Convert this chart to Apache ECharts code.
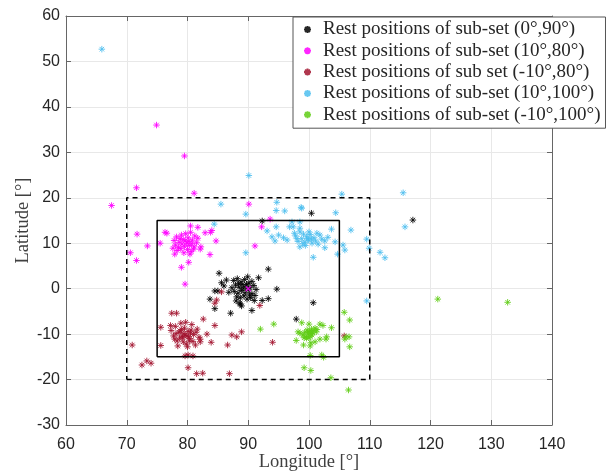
<!DOCTYPE html>
<html>
<head>
<meta charset="utf-8">
<script src="https://cdn.jsdelivr.net/npm/echarts@6/dist/echarts.min.js"></script>
<style>
  html, body { margin: 0; padding: 0; background: #fff; }
  #chart { width: 607px; height: 473px; }
</style>
</head>
<body>
<div id="chart"></div>
<script>
// axis ticks
const xTicks = [60, 140, 10];
const yTicks = [-30, 60, 10];

// rest positions [longitude, latitude]
const set0_90 = [
  [85.2,3.4],[93.3,4.3],[91.7,2.4],[85.6,1.3],[94.7,-0.1],[85.0,-0.5],[84.5,-0.5],[83.7,-2.3],
  [84.5,-4.4],[87.1,-5.4],[90.6,-4.8],[92.3,-2.6],[93.3,-2.2],[88.7,-3.4],[88.9,-3.8],[100.7,-3.1],
  [97.9,-6.7],[100.4,16.6],[92.3,14.9],[117.1,15.1],[88.6,-3.2],[86.4,1.9],[86.0,0.6],
  [87.6,1.8],[88.2,2.2],[88.8,1.5],[89.4,2.0],[90.1,1.2],[90.6,1.6],[87.9,0.8],[88.5,0.3],
  [89.0,0.9],[89.6,0.5],[90.3,0.2],[90.9,0.7],[91.3,-0.2],[87.7,-0.6],[88.3,-1.0],[88.9,-0.4],
  [89.5,-0.9],[90.0,-0.3],[90.6,-1.1],[91.1,-1.5],[88.1,-1.8],[88.7,-2.0],[89.3,-1.6],[89.8,-2.3],
  [90.4,-2.0],[89.2,0.1],[89.7,1.0],[90.2,-1.4],[88.4,1.1],[91.0,-2.6],[87.3,0.2],[89.9,2.6],
  [88.0,-2.7],[86.8,-0.8]
];
const set10_80 = [
  [71.7,12.0],[73.4,9.4],[70.6,7.9],[71.6,6.2],[75.5,10.0],[76.3,12.4],[76.6,12.2],[80.5,13.8],
  [81.7,13.5],[82.9,12.3],[83.8,12.4],[84.0,12.8],[84.7,10.5],[82.2,9.2],[82.1,8.7],[79.0,4.7],
  [80.2,5.8],[79.6,1.0],[67.5,18.3],[71.6,22.2],[81.1,21.0],[90.1,18.6],[91.1,9.4],[83.7,7.5],
  [74.9,36.0],[79.5,29.2],[93.6,15.3],[92.2,13.6],
  [77.8,10.6],[78.2,11.4],[78.6,10.2],[79.0,11.8],[79.3,10.8],[79.7,12.1],[80.1,11.2],[80.5,12.4],
  [80.8,10.7],[81.2,11.6],[81.5,10.1],[78.0,9.6],[78.5,9.1],[79.1,9.8],[79.5,9.3],[79.9,10.0],
  [80.3,9.5],[80.7,9.9],[81.1,9.2],[78.3,8.4],[78.9,8.8],[79.4,7.9],[80.0,8.6],[80.6,8.2],
  [81.0,8.7],[77.6,8.9],[79.6,10.5],[80.2,10.4],[78.8,11.0],[81.7,11.1],[77.9,7.6],[80.4,7.6]
];
const setM10_80 = [
  [77.4,-5.4],[78.2,-5.4],[82.6,-6.7],[84.5,-8.1],[75.6,-8.5],[70.9,-12.4],[75.6,-12.5],[83.2,-10.0],
  [83.9,-11.8],[86.6,-12.4],[87.3,-10.2],[88.1,-10.6],[79.6,-14.8],[80.1,-14.6],[80.9,-14.8],[72.5,-16.8],
  [73.3,-15.9],[74.0,-16.4],[80.1,-17.4],[81.5,-18.7],[82.5,-18.6],[86.9,-18.7],[84.8,-2.5],[84.5,-3.2],
  [85.6,-0.7],[88.9,-9.5],[91.9,-3.7],[94.0,-11.8],[105.8,-10.4],[82.1,-11.1],[82.1,-11.7],
  [77.3,-9.2],[77.7,-10.4],[78.0,-8.3],[78.3,-11.5],[78.6,-9.6],[78.9,-7.6],[79.2,-10.8],[79.5,-8.7],
  [79.8,-12.2],[80.1,-9.4],[80.4,-11.0],[80.7,-7.9],[81.0,-10.1],[81.3,-12.4],[81.6,-8.9],[81.9,-10.7],
  [78.4,-12.6],[79.0,-9.0],[79.6,-10.2],[80.2,-10.6],[80.6,-9.1],[79.3,-11.7],[78.1,-9.9],[80.9,-11.6],
  [77.9,-11.1],[79.7,-7.4],[81.4,-9.6],[78.7,-10.9],[80.0,-12.8],[77.2,-8.1],
  [79.4,-9.9],[79.9,-10.4],[80.5,-9.8],[79.1,-10.5],[80.3,-11.5],[78.8,-9.3]
];
const set10_100 = [
  [94.7,19.0],[94.6,17.2],[96.0,17.1],[98.7,17.9],[98.8,17.7],[104.4,16.7],[106.9,12.9],[109.5,10.9],
  [109.5,-2.7],[105.6,9.6],[105.9,8.5],[104.7,7.6],[100.7,6.9],[103.7,13.1],[104.3,10.3],[97.2,14.7],
  [96.8,13.6],[97.4,13.6],[98.5,14.7],[93.1,12.7],[94.6,13.6],[93.9,11.4],[94.4,10.5],[95.0,11.8],
  [95.8,11.2],[96.4,10.7],[105.4,20.8],[115.5,21.1],[115.8,13.6],[111.7,8.0],[112.5,6.8],[109.9,8.9],
  [85.5,18.6],[89.6,16.4],[84.4,14.2],[89.6,7.9],[65.9,52.7],[101.3,38.0],[90.1,24.9],
  [97.8,11.6],[98.2,10.4],[98.5,12.5],[98.5,13.3],[98.5,9.2],[98.8,11.0],[99.1,12.0],[99.3,10.2],
  [99.6,11.4],[99.9,10.7],[100.2,11.9],[100.5,10.0],[100.8,11.2],[101.1,10.5],[101.3,12.2],[101.8,11.8],
  [102.6,10.5],[102.6,9.0],[99.4,9.5],[100.0,12.5],[98.0,11.0],[101.5,9.8],[99.8,11.0],[100.4,10.9],
  [97.6,12.2],[102.1,10.9],[103.1,11.3],[99.0,9.9]
];
const setM10_100 = [
  [94.2,-7.8],[92.0,-8.9],[98.8,-7.5],[100.0,-7.8],[101.8,-7.8],[102.3,-8.1],[103.7,-8.6],[102.9,-10.6],
  [102.8,-11.1],[101.8,-11.1],[97.9,-11.4],[99.1,-12.4],[100.3,-11.9],[101.0,-11.7],[100.2,-12.6],[98.5,-9.8],
  [98.2,-9.5],[100.2,-14.7],[102.1,-14.6],[102.4,-15.1],[99.2,-17.4],[100.3,-18.0],[105.8,-5.2],[106.7,-6.9],
  [106.1,-10.6],[106.6,-10.6],[106.7,-12.8],[105.9,-11.1],[106.5,-22.3],[103.6,-19.6],[121.2,-2.3],[132.7,-3.0],
  [99.0,-10.2],[99.3,-9.6],[99.5,-10.6],[99.7,-9.1],[99.9,-10.0],[100.1,-9.4],[100.2,-10.5],[100.4,-8.9],
  [100.6,-9.7],[100.8,-9.2],[101.0,-8.7],[101.2,-9.5],[99.6,-10.9],[100.0,-10.8],[100.5,-10.2],[99.8,-9.5],
  [100.3,-9.9],[101.3,-9.0],[99.2,-10.8]
];
const centre = [[90, 0]];

// boxes
const innerBox = [[75,-15],[105,-15],[105,15],[75,15],[75,-15]];
const outerBox = [[70,-20],[110,-20],[110,20],[70,20],[70,-20]];

const names = [
  'Rest positions of sub-set (0°,90°)',
  'Rest positions of sub-set (10°,80°)',
  'Rest positions of sub set (-10°,80°)',
  'Rest positions of sub-set (10°,100°)',
  'Rest positions of sub-set (-10°,100°)'
];
const colors = ['#000000', '#ff00ff', '#a2142f', '#4dbeee', '#5fcc14'];
const sets = [set0_90, set10_80, setM10_80, set10_100, setM10_100];

const star = 'path://M0,-10L0,10M-10,0L10,0M-7,-7L7,7M-7,7L7,-7';
const cross = 'path://M-7,-7L7,7M-7,7L7,-7';

const chart = echarts.init(document.getElementById('chart'));

let series = sets.map((d, i) => ({
    name: names[i],
    type: 'scatter',
    data: d,
    symbol: star,
    symbolSize: 6.5,
    itemStyle: { color: colors[i], borderColor: colors[i], borderWidth: 1, opacity: 0.85 }
}));
series.push({
    type: 'scatter', data: centre, symbol: cross, symbolSize: 5, z: 5,
    itemStyle: { color: '#ff00ff', borderColor: '#ff00ff', borderWidth: 1.5 }
});
series.push({
    type: 'line', data: innerBox, showSymbol: false, silent: true,
    lineStyle: { color: '#000', width: 1.5 }
});
series.push({
    type: 'line', data: outerBox, showSymbol: false, silent: true,
    lineStyle: { color: '#000', width: 1.5, type: [5, 4] }
});

const axisCol = '#666';
const labelStyle = { fontFamily: 'Liberation Sans', fontSize: 16, color: '#262626' };
const nameStyle = { fontFamily: 'Liberation Serif', fontSize: 18.5, color: '#404040' };

chart.setOption({
    animation: false,
    grid: { left: 66, right: 55, top: 16, bottom: 48, outerBoundsMode: 'none', containLabel: false },
    legend: {
        data: names.map(n => ({ name: n, icon: star })),
        orient: 'vertical',
        left: 293, top: 17,
        padding: [3, 5, 4, 10],
        itemGap: 2.3,
        itemWidth: 7, itemHeight: 7,
        backgroundColor: '#fff',
        borderColor: '#555', borderWidth: 1,
        textStyle: { fontFamily: 'Liberation Serif', fontSize: 19, color: '#262626', padding: [0, 0, 0, 7] }
    },
    xAxis: [{
        type: 'value', min: xTicks[0], max: xTicks[1], interval: xTicks[2],
        name: 'Longitude [°]', nameLocation: 'middle', nameGap: 28, nameMoveOverlap: false,
        nameTextStyle: nameStyle,
        axisLine: { onZero: false, lineStyle: { color: axisCol } },
        axisTick: { inside: true, length: 5, lineStyle: { color: axisCol } },
        axisLabel: Object.assign({ margin: 12 }, labelStyle),
        splitLine: { lineStyle: { color: '#e8e8e8' } }
    }, {
        type: 'value', position: 'top', min: xTicks[0], max: xTicks[1], interval: xTicks[2],
        axisLine: { onZero: false, lineStyle: { color: axisCol } },
        axisTick: { inside: true, length: 5, lineStyle: { color: axisCol } },
        axisLabel: { show: false }, splitLine: { show: false }
    }],
    yAxis: [{
        type: 'value', min: yTicks[0], max: yTicks[1], interval: yTicks[2],
        name: 'Latitude [°]', nameLocation: 'middle', nameGap: 33, nameMoveOverlap: false,
        nameTextStyle: nameStyle,
        axisLine: { show: true, onZero: false, lineStyle: { color: axisCol } },
        axisTick: { show: true, inside: true, length: 5, lineStyle: { color: axisCol } },
        axisLabel: Object.assign({ margin: 6 }, labelStyle),
        splitLine: { lineStyle: { color: '#e8e8e8' } }
    }, {
        type: 'value', position: 'right', min: yTicks[0], max: yTicks[1], interval: yTicks[2],
        axisLine: { show: true, onZero: false, lineStyle: { color: axisCol } },
        axisTick: { show: true, inside: true, length: 5, lineStyle: { color: axisCol } },
        axisLabel: { show: false }, splitLine: { show: false }
    }],
    series: series
});
</script>
</body>
</html>
